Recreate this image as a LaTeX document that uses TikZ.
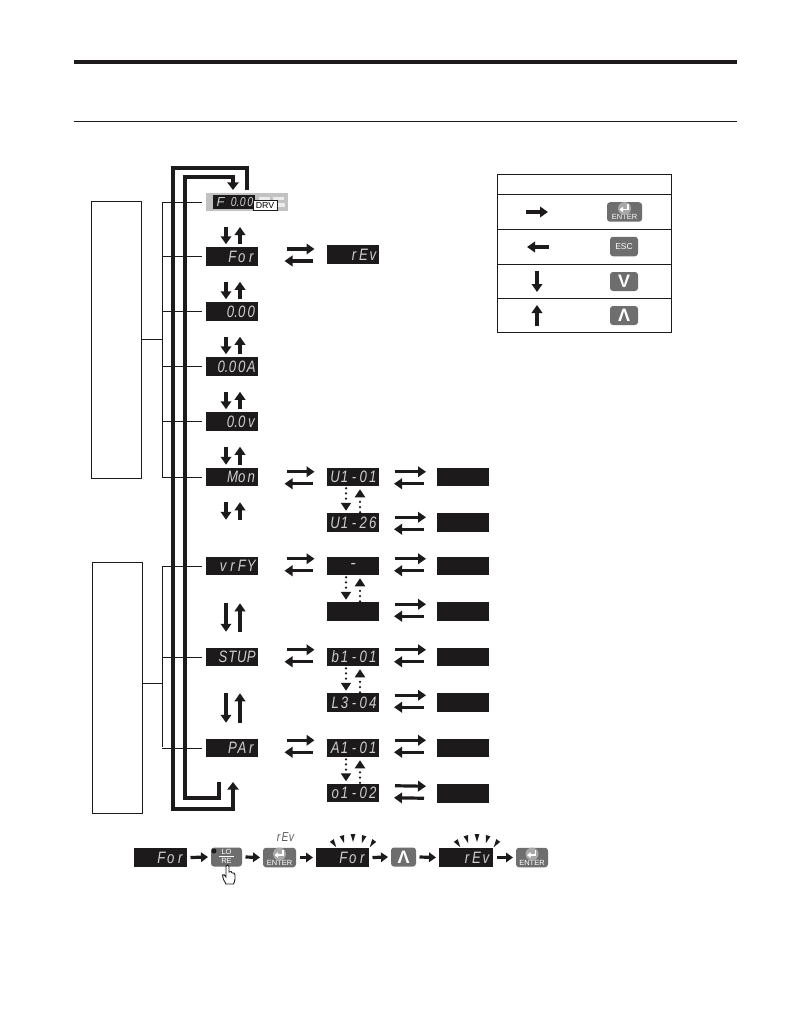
\documentclass[tikz,border=0pt]{standalone}
\usepackage{fontspec}
\usepackage{graphicx}
\setmainfont{Liberation Sans}
\usetikzlibrary{arrows.meta,calc}
\definecolor{ink}{HTML}{1C1A1B}
\definecolor{segc}{HTML}{CFCFCF}
\definecolor{btnc}{HTML}{6E6E6E}
\definecolor{btnl}{HTML}{A8A8A8}
\makeatletter
\newcommand\segs[1]{\@tfor\sg@c:=#1\do{\makebox[9.4pt][c]{\scalebox{0.8}[1]{\sg@c}}}}
\makeatother
\newcommand\segtext[1]{\makebox[49pt][r]{\fontsize{16.5}{16.5}\selectfont\itshape\segs{#1}}}
\tikzset{
  disp/.style={fill=ink,draw=none,inner sep=0pt,outer sep=0pt,minimum width=52pt,minimum height=18.5pt,text=segc},
  side/.style={draw=ink,line width=0.8pt,inner sep=0pt,minimum width=50pt},
  thinl/.style={draw=ink,line width=0.9pt},
  heavy/.style={draw=ink,line width=4pt,line join=miter},
  arr/.style={draw=ink,line width=3.2pt,-{Triangle[length=8pt,width=10.5pt]}},
  dots/.style={draw=ink,line width=2.5pt,line cap=round,dash pattern=on 0pt off 5.2pt,-{Triangle[length=8pt,width=10pt]}},
  btn/.style={fill=btnc,rounded corners=3pt,inner sep=0pt,outer sep=0pt,text=white},
  tablel/.style={draw=ink,line width=0.9pt},
}
\newcommand\vpair[4]{%
  \draw[arr] ([xshift=-5.5pt,yshift=-#3pt]#1) -- ([xshift=-5.5pt,yshift=#4pt]#2);
  \draw[arr] ([xshift=8.5pt,yshift=#4pt]#2) -- ([xshift=8.5pt,yshift=-#3pt]#1);
}
\newcommand\dpair[2]{%
  \draw[dots] ([xshift=-7pt,yshift=-2pt]#1.south) -- ([xshift=-7pt,yshift=2.5pt]#2.north);
  \draw[dots] ([xshift=7pt,yshift=1pt]#2.north) -- ([xshift=7pt,yshift=-3pt]#1.south);
}
\newcommand\tobracket[2]{%
  \coordinate (tmp) at ([xshift=-4pt]#1.west);
  \draw[thinl] (tmp) -- (tmp -| #2);
}
\newcommand\enterbtn[4]{%
  \node[btn,minimum width=#4pt,minimum height=19.5pt] (#1) at (#2,#3) {};
  \node[text=white,inner sep=0pt,font=\fontsize{7.5}{7.5}\selectfont] (#1t) at ([yshift=4.4pt]#1.south) {ENTER};
  \fill[btnl] ([yshift=3.5pt]#1.center) circle (6.5pt);
  \draw[white,line width=1.8pt,-{Triangle[length=3.5pt,width=5.5pt]}] ([xshift=3.5pt,yshift=8pt]#1.center) -- ([xshift=3.5pt,yshift=2.5pt]#1.center) -- ([xshift=-5pt,yshift=2.5pt]#1.center);
}
\newcommand\symbtn[5]{%
  \node[btn,minimum width=#4pt,minimum height=19pt,font=\bfseries\fontsize{18}{18}\selectfont] (#1) at (#2,#3) {#5};
}
\newcommand\raysat[1]{%
  \foreach \a in {-34,-17,0,17,34}{%
    \begin{scope}[shift={(#1,872)},rotate=\a]
      \fill[ink] (-2.4,-38) -- (2.4,-38) -- (0,-30) -- cycle;
    \end{scope}}%
}
\begin{document}
\begin{tikzpicture}[x=1pt,y=-1pt]
\useasboundingbox (0,0) rectangle (794,1032);
\fill[white] (0,0) rectangle (794,1032);
% header rules
\coordinate (r1a) at (74,62); \coordinate (r1b) at (737,62);
\coordinate (r2a) at (74,121); \coordinate (r2b) at (737,121);
\draw[ink,line width=4pt] (r1a) -- (r1b);
\draw[ink,line width=0.9pt] (r2a) -- (r2b);
% side boxes
\node[side,minimum height=277pt] (sb1) at (116,339.5) {};
\node[side,minimum height=251pt] (sb2) at (117,687.5) {};
% bracket spines
\coordinate (s1t) at (162,202.5); \coordinate (s1b) at (162,477);
\coordinate (s2t) at (162,566); \coordinate (s2b) at (162,747);
\coordinate (s1c) at (162,339.5); \coordinate (s2c) at (162,683);
\draw[thinl] (s1t) -- (s1b);
\draw[thinl] (s2t) -- (s2b);
\draw[thinl] (sb1.east |- s1c) -- (s1c);
\draw[thinl] (sb2.east |- s2c) -- (s2c);
% main panel
\node[fill=btnl!70!white,inner sep=0pt,minimum width=82pt,minimum height=18.5pt] (panel) at (247,202) {};
\node[fill=ink,inner sep=0pt,minimum width=42pt,minimum height=14pt,text=segc] (pdisp) at (234,202) {\fontsize{13}{13}\selectfont\itshape\makebox[40pt][r]{\makebox[17pt][l]{\hspace{2pt}F}\makebox[7.5pt][c]{\scalebox{0.8}[1]{0.}}\makebox[7.5pt][c]{\scalebox{0.8}[1]{0}}\makebox[7.5pt][c]{\scalebox{0.8}[1]{0}}}};
\fill[white!85!gray] (259,197) rectangle (270,200.5);
\fill[white!85!gray] (273,197) rectangle (284,200.5);
\fill[white!85!gray] (278,203) rectangle (285,207);
\node[fill=white,draw=ink,line width=0.8pt,inner sep=0pt,minimum width=24pt,minimum height=9.5pt,font=\fontsize{8.8}{9}\selectfont] (drv) at (265,205.5) {DRV};
\coordinate (ps) at (231.5,211);
% column 1
\node[disp] (c1a) at (231.5,256.5) {\segtext{For}};
\node[disp] (c1b) at (231.5,311.5) {\segtext{{0.}00}};
\node[disp] (c1c) at (231.5,366.5) {\segtext{{0.}00A}};
\node[disp] (c1d) at (231.5,421.5) {\segtext{{0.}0v}};
\node[disp] (c1e) at (231.5,477) {\segtext{Mon}};
\node[disp] (c1f) at (231.5,566) {\segtext{vrFY}};
\node[disp] (c1g) at (231.5,657) {\segtext{STUP}};
\node[disp] (c1h) at (231.5,748) {\segtext{PAr}};
% column 2
\node[disp] (c2a) at (353,254.5) {\segtext{rEv}};
\node[disp] (c2b) at (353,477) {\segtext{U1-01}};
\node[disp] (c2c) at (353,522.5) {\segtext{U1-26}};
\node[disp] (c2d) at (353,566) {\makebox[52pt][c]{\fontsize{16.5}{16.5}\selectfont\itshape -}};
\node[disp] (c2e) at (353,611.5) {};
\node[disp] (c2f) at (353,657) {\segtext{b1-01}};
\node[disp] (c2g) at (353,702.5) {\segtext{L3-04}};
\node[disp] (c2h) at (353,748) {\segtext{A1-01}};
\node[disp] (c2i) at (353,793) {\segtext{o1-02}};
% column 3
\node[disp] (c3b) at (463,477) {};
\node[disp] (c3c) at (463,522.5) {};
\node[disp] (c3d) at (463,566) {};
\node[disp] (c3e) at (463,611.5) {};
\node[disp] (c3f) at (463,657) {};
\node[disp] (c3g) at (463,702.5) {};
\node[disp] (c3h) at (463,748) {};
\node[disp] (c3i) at (463,793.5) {};
% bracket stubs
\tobracket{panel}{s1t}
\foreach \n in {c1a,c1b,c1c,c1d,c1e}{\tobracket{\n}{s1t}}
\foreach \n in {c1f,c1g,c1h}{\tobracket{\n}{s2t}}
% feedback loop
\coordinate (lo1) at (173,168); \coordinate (lo2) at (247,168); \coordinate (lo3) at (247,190);
\coordinate (li1) at (185,177); \coordinate (li2) at (233,177); \coordinate (li3) at (233,190);
\coordinate (bo1) at (173,809); \coordinate (bo2) at (233,809); \coordinate (bo3) at (233,782);
\coordinate (bi1) at (185,798); \coordinate (bi2) at (219,798); \coordinate (bi3) at (219,782);
\draw[heavy] (bi3) -- (bi2) -- (bi1) -- (li1) -- (li2) -- ([yshift=-4pt]li2);
\draw[ink,line width=3.6pt,-{Triangle[length=7.5pt,width=11pt]}] ([yshift=2pt]li2) -- (li3);
\draw[heavy] (lo3) -- (lo2) -- (lo1) -- (bo1) -- (bo2) -- ([yshift=4pt]bo2);
\draw[ink,line width=3.6pt,-{Triangle[length=7.5pt,width=11pt]}] ([yshift=-2pt]bo2) -- (bo3);
% vertical pairs
\vpair{ps}{c1a.north}{16}{3}
\vpair{c1a.south}{c1b.north}{16}{3}
\vpair{c1b.south}{c1c.north}{16}{3}
\vpair{c1c.south}{c1d.north}{16}{3}
\vpair{c1d.south}{c1e.north}{16}{3}
\vpair{c1e.south}{c1f.north}{16}{37}
\vpair{c1f.south}{c1g.north}{28}{16}
\vpair{c1g.south}{c1h.north}{27}{16}
% horizontal pairs
\newcommand\hone[3]{%
  \draw[arr] ([xshift=29pt,yshift=-#3pt]#1.north east) -- ([xshift=-12.5pt,yshift=-#3pt]#2.north west);
  \draw[arr] ([xshift=-14pt,yshift=-#3pt-12pt]#2.north west) -- ([xshift=27pt,yshift=-#3pt-12pt]#1.north east);
}
\newcommand\htwo[3]{%
  \draw[arr] ([xshift=16pt,yshift=-#3pt]#1.north east) -- ([xshift=-11pt,yshift=-#3pt]#2.north west);
  \draw[arr] ([xshift=-13pt,yshift=-#3pt-12pt]#2.north west) -- ([xshift=15pt,yshift=-#3pt-12pt]#1.north east);
}
\draw[arr] ([xshift=29pt,yshift=-1.75pt]c1a.north east) -- ([xshift=-12.5pt,yshift=-3.75pt]c2a.north west);
\draw[arr] ([xshift=-14pt,yshift=-15.75pt]c2a.north west) -- ([xshift=27pt,yshift=-13.75pt]c1a.north east);
\hone{c1e}{c2b}{4}
\hone{c1f}{c2d}{2}
\hone{c1g}{c2f}{2}
\hone{c1h}{c2h}{1.5}
\htwo{c2b}{c3b}{4}
\htwo{c2c}{c3c}{4}
\htwo{c2d}{c3d}{2}
\htwo{c2e}{c3e}{2}
\htwo{c2f}{c3f}{2}
\htwo{c2g}{c3g}{2}
\htwo{c2h}{c3h}{1.5}
\htwo{c2i}{c3i}{2}
% dotted pairs
\dpair{c2b}{c2c}
\dpair{c2d}{c2e}
\dpair{c2f}{c2g}
\dpair{c2h}{c2i}
% key table
\node[draw=ink,line width=0.9pt,inner sep=0pt,minimum width=174.5pt,minimum height=158pt] (tbl) at (584.5,253) {};
\coordinate (t1) at (497,194); \coordinate (t2) at (497,229); \coordinate (t3) at (497,264); \coordinate (t4) at (497,298);
\foreach \t in {t1,t2,t3,t4}{\draw[tablel] (\t) -- (\t -| tbl.east);}
\coordinate (kra) at (526,212); \coordinate (krb) at (548,212);
\coordinate (kla) at (549,247); \coordinate (klb) at (527,247);
\coordinate (kda) at (537,271); \coordinate (kdb) at (537,292);
\coordinate (kua) at (537,326); \coordinate (kub) at (537,305);
\draw[arr] (kra) -- (krb);
\draw[arr] (kla) -- (klb);
\draw[arr] (kda) -- (kdb);
\draw[arr] (kua) -- (kub);
\enterbtn{ke}{624.5}{212}{35}
\node[btn,minimum width=28pt,minimum height=19.5pt,font=\fontsize{8.5}{8.5}\selectfont] (kesc) at (624,246.5) {ESC};
\symbtn{kv}{624}{281.5}{28}{V}
\symbtn{kup}{624}{315.5}{28}{Λ}
% bottom row
\node[disp,minimum width=53pt] (b1) at (160.5,857.5) {\segtext{For}};
\node[btn,minimum width=31pt,minimum height=19pt] (b2) at (226.5,857) {};
\node[text=white,inner sep=0pt,font=\fontsize{7.5}{7.5}\selectfont] (b2a) at (226.5,852.3) {LO};
\node[text=white,inner sep=0pt,font=\fontsize{7.5}{7.5}\selectfont] (b2b) at (226.5,861.3) {RE};
\coordinate (b2la) at (219,856.8); \coordinate (b2lb) at (234,856.8);
\draw[white,line width=0.7pt] (b2la) -- (b2lb);
\fill[ink] (214,851) circle (2.5pt);
\draw[ink,fill=white,line width=0.9pt] (226,884) .. controls (224,880) and (222,878) .. (222.5,875) .. controls (223,873.5) and (225,875) .. (226,877) -- (226,866.5) .. controls (226,864.5) and (229,864.5) .. (229,866.5) -- (229,872) .. controls (231,871) and (232,871.5) .. (232,873) .. controls (233.5,872.5) and (235,873) .. (235,875) -- (235,879) .. controls (235,881) and (234,882.5) .. (233.5,884) -- cycle;
\enterbtn{b3}{279.5}{857.5}{33}
\node[text=ink!70!white,inner sep=0pt] (b3l) at (285,837) {\fontsize{13}{13}\selectfont\itshape\makebox[6.5pt][c]{\scalebox{0.8}[1]{r}}\makebox[6.5pt][c]{\scalebox{0.8}[1]{E}}\makebox[6.5pt][c]{\scalebox{0.8}[1]{v}}};
\node[disp,minimum width=53pt] (b4) at (342.5,857.5) {\segtext{For}};
\symbtn{b5}{403.5}{857}{25}{Λ}
\node[disp,minimum width=54pt] (b6) at (466,857.5) {\segtext{rEv}};
\enterbtn{b7}{532}{857.5}{32}
\raysat{353}
\raysat{477}
\foreach \p/\q in {b1/b2,b2/b3,b3/b4,b4/b5,b5/b6,b6/b7}{
  \draw[ink,line width=3.2pt,-{Triangle[length=7pt,width=9.5pt]}] ([xshift=3.5pt]\p.east) -- ([xshift=-3pt]\q.west);
}
\end{tikzpicture}
\end{document}
